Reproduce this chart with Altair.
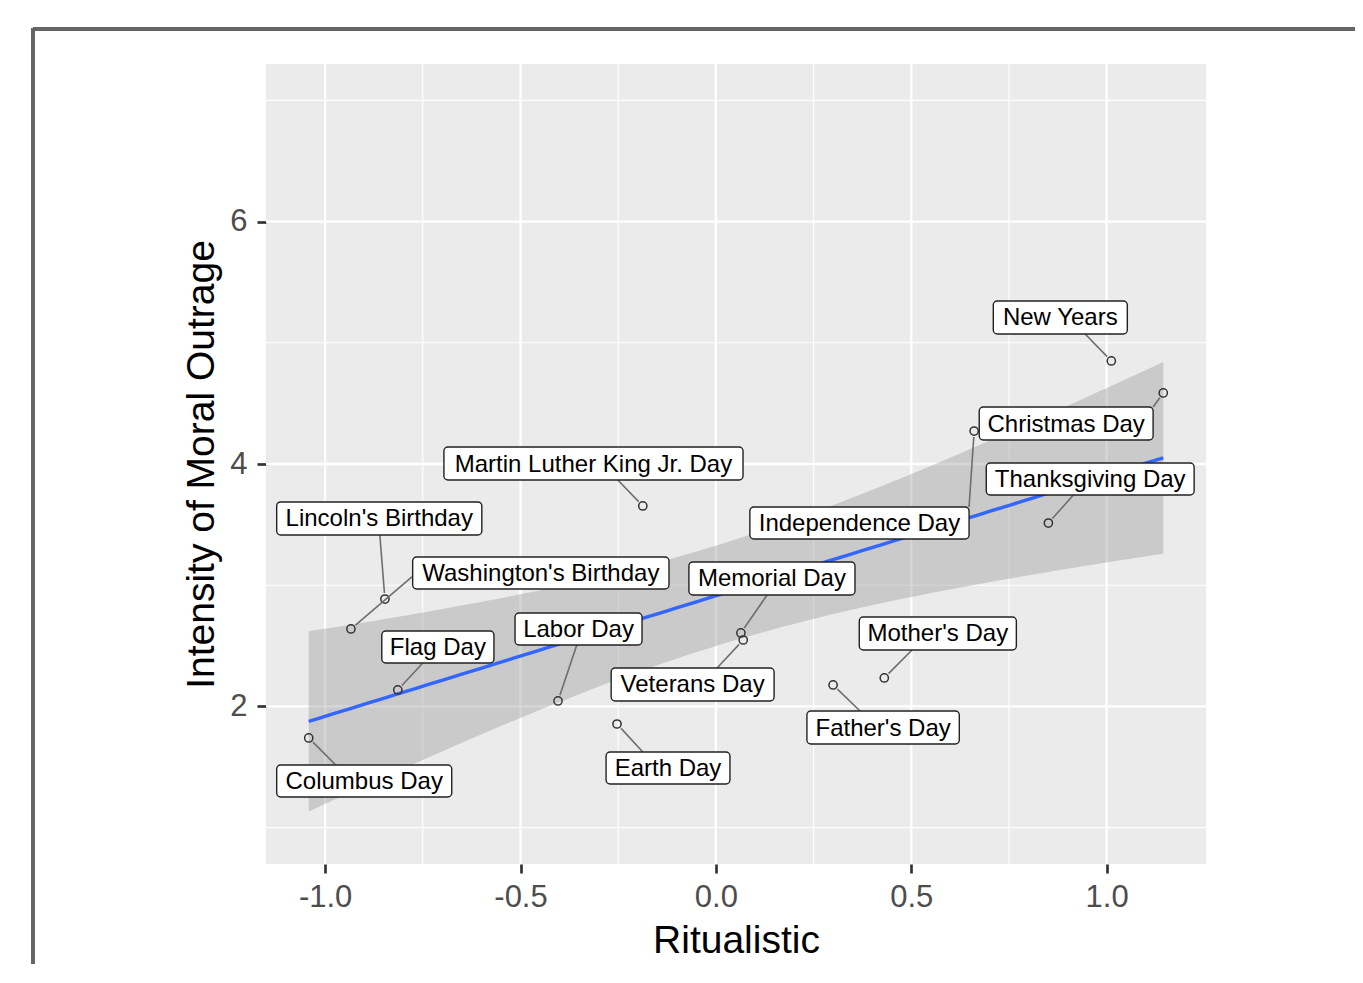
import altair as alt
import numpy as np
import pandas as pd

# ---------------- data ----------------
holidays = ["Columbus Day", "Lincoln's Birthday", "Washington's Birthday", "Flag Day",
            "Labor Day", "Martin Luther King Jr. Day", "Earth Day", "Memorial Day",
            "Veterans Day", "Father's Day", "Mother's Day", "Independence Day",
            "Thanksgiving Day", "New Years", "Christmas Day"]
ritualistic = [-1.042, -0.847, -0.934, -0.814, -0.404, -0.187, -0.253, 0.064,
               0.070, 0.300, 0.431, 0.661, 0.851, 1.012, 1.145]
outrage = [1.740, 2.886, 2.639, 2.136, 2.045, 3.654, 1.855, 2.606,
           2.548, 2.177, 2.235, 4.272, 3.513, 4.850, 4.586]

# label boxes as placed by the repel step (data units)
label_x1 = [-1.124, -1.124, -0.776, -0.855, -0.514, -0.696, -0.281, -0.069,
            -0.268, 0.233, 0.367, 0.087, 0.692, 0.710, 0.674]
label_x2 = [-0.676, -0.599, -0.120, -0.568, -0.189, 0.0695, 0.036, 0.356,
            0.149, 0.623, 0.769, 0.648, 1.224, 1.053, 1.119]
label_top = [1.517, 3.687, 3.233, 2.622, 2.771, 4.140, 1.624, 3.192,
             2.317, 1.962, 2.738, 3.645, 4.008, 5.345, 4.470]
label_bottom = [1.253, 3.414, 2.969, 2.358, 2.507, 3.868, 1.360, 2.919,
                2.045, 1.690, 2.466, 3.381, 3.744, 5.073, 4.198]
# where each leader segment meets its label box (data units)
seg_end_x = [-0.973, -0.860, -0.778, -0.750, -0.356, -0.251, -0.187, 0.131,
             0.003, 0.369, 0.502, 0.648, 0.915, 0.945, 1.119]
seg_end_y = [1.517, 3.414, 3.068, 2.358, 2.507, 3.868, 1.624, 2.919,
             2.317, 1.962, 2.466, 3.645, 3.744, 5.073, 4.470]

x_major = [-1.0, -0.5, 0.0, 0.5, 1.0]
x_minor = [-0.75, -0.25, 0.25, 0.75]
y_major = [2, 4, 6]
y_minor = [1, 3, 5, 7]
y_limits = [1, 7]

x_title = "Ritualistic"
y_title = "Intensity of Moral Outrage"

# ---------------- layout ----------------
W, H = 940, 800
FONT = "Liberation Sans"

xa = np.array(ritualistic)
ya = np.array(outrage)
xr = xa.max() - xa.min()
xlo, xhi = xa.min() - 0.05 * xr, xa.max() + 0.05 * xr
yr = y_limits[1] - y_limits[0]
ylo, yhi = y_limits[0] - 0.05 * yr, y_limits[1] + 0.05 * yr

xs = alt.Scale(domain=[xlo, xhi], nice=False, zero=False)
ys = alt.Scale(domain=[ylo, yhi], nice=False, zero=False)

x_axis = alt.Axis(values=x_major, grid=False, domain=False, tickColor="#333333",
                  tickWidth=2.7, tickSize=9, labelFontSize=31, labelColor="#4D4D4D",
                  labelFont=FONT, labelPadding=9,
                  labelExpr="(datum.value < 0 ? '-' : '') + format(abs(datum.value), '.1f')",
                  title=x_title, titleFontSize=39, titleFont=FONT, titleColor="black",
                  titleFontWeight="normal", titleBaseline="alphabetic", titleY=88)
y_axis = alt.Axis(values=y_major, grid=False, domain=False, tickColor="#333333",
                  tickWidth=2.7, tickSize=9, labelFontSize=31, labelColor="#4D4D4D",
                  labelFont=FONT, labelPadding=10, format="d",
                  title=y_title, titleFontSize=39, titleFont=FONT, titleColor="black",
                  titleFontWeight="normal", titleBaseline="alphabetic", titleX=-53, titleY=H / 2)

# ---------------- linear fit with 95% band (as geom_smooth(method = "lm")) ----------------
n = len(xa)
xm, ym = xa.mean(), ya.mean()
sxx = ((xa - xm) ** 2).sum()
b = ((xa - xm) * (ya - ym)).sum() / sxx
a = ym - b * xm
resid = ya - (a + b * xa)
s = np.sqrt((resid ** 2).sum() / (n - 2))
T975 = 2.160369  # Student t quantile 0.975, df = n - 2 = 13
grid = np.linspace(xa.min(), xa.max(), 80)
fit = a + b * grid
se = s * np.sqrt(1.0 / n + (grid - xm) ** 2 / sxx)
fit_df = pd.DataFrame({"x": grid, "fit": fit, "lo": fit - T975 * se, "hi": fit + T975 * se})

# ---------------- tables ----------------
pts = pd.DataFrame({"holiday": holidays, "x": ritualistic, "y": outrage})
lab = pd.DataFrame({"holiday": holidays, "x1": label_x1, "x2": label_x2,
                    "y1": label_bottom, "y2": label_top})
lab["cx"] = (lab["x1"] + lab["x2"]) / 2
lab["cy"] = (lab["y1"] + lab["y2"]) / 2

# leader segments: start just outside the point circle
sx, sy = W / (xhi - xlo), H / (yhi - ylo)
ex, ey = np.array(seg_end_x), np.array(seg_end_y)
dxp, dyp = (ex - xa) * sx, (ey - ya) * sy
L = np.hypot(dxp, dyp)
gap = 6.0
seg = pd.DataFrame({"x": xa + (ex - xa) * gap / L, "y": ya + (ey - ya) * gap / L,
                    "x2": ex, "y2": ey})

gx_major = pd.DataFrame({"v": x_major})
gx_minor = pd.DataFrame({"v": x_minor})
gy_major = pd.DataFrame({"v": y_major})
gy_minor = pd.DataFrame({"v": y_minor})

# ---------------- layers ----------------
base_x = alt.X("v:Q", scale=xs, axis=x_axis)
base_y = alt.Y("v:Q", scale=ys, axis=y_axis)

grid_xmin = alt.Chart(gx_minor).mark_rule(color="white", strokeWidth=1.1).encode(x=base_x)
grid_ymin = alt.Chart(gy_minor).mark_rule(color="white", strokeWidth=1.1).encode(y=base_y)
grid_xmaj = alt.Chart(gx_major).mark_rule(color="white", strokeWidth=2.3).encode(x=base_x)
grid_ymaj = alt.Chart(gy_major).mark_rule(color="white", strokeWidth=2.3).encode(y=base_y)

band = alt.Chart(fit_df).mark_area(color="#999999", opacity=0.4).encode(
    x=alt.X("x:Q", scale=xs, axis=x_axis),
    y=alt.Y("lo:Q", scale=ys, axis=y_axis),
    y2="hi:Q",
)
line = alt.Chart(fit_df).mark_line(color="#3366FF", strokeWidth=3.4).encode(
    x=alt.X("x:Q", scale=xs, axis=x_axis),
    y=alt.Y("fit:Q", scale=ys, axis=y_axis),
)
points = alt.Chart(pts).mark_point(shape="circle", filled=False, size=68, color="#333333",
                                   strokeWidth=1.5, opacity=1).encode(
    x=alt.X("x:Q", scale=xs, axis=x_axis),
    y=alt.Y("y:Q", scale=ys, axis=y_axis),
)
segments = alt.Chart(seg).mark_rule(color="#6E6E6E", strokeWidth=1.6).encode(
    x=alt.X("x:Q", scale=xs, axis=x_axis),
    y=alt.Y("y:Q", scale=ys, axis=y_axis),
    x2="x2:Q", y2="y2:Q",
)
boxes = alt.Chart(lab).mark_rect(fill="white", stroke="#222222", strokeWidth=1.4,
                                 cornerRadius=4).encode(
    x=alt.X("x1:Q", scale=xs, axis=x_axis),
    x2="x2:Q",
    y=alt.Y("y1:Q", scale=ys, axis=y_axis),
    y2="y2:Q",
)
texts = alt.Chart(lab).mark_text(font=FONT, fontSize=24, color="black", align="center",
                                 baseline="middle", dy=1).encode(
    x=alt.X("cx:Q", scale=xs, axis=x_axis),
    y=alt.Y("cy:Q", scale=ys, axis=y_axis),
    text="holiday:N",
)

# outer frame of the original screenshot
frame_top = alt.Chart(pts).mark_rule(color="#666666", strokeWidth=2.5).encode(
    x=alt.value(-233), x2=alt.value(1100), y=alt.value(-35))
frame_left = alt.Chart(pts).mark_rule(color="#666666", strokeWidth=2.5).encode(
    x=alt.value(-233), y=alt.value(-36), y2=alt.value(905))

chart = alt.layer(
    grid_xmin, grid_ymin, grid_xmaj, grid_ymaj, band, line, points, segments, boxes, texts,
    frame_top, frame_left,
).properties(
    width=W, height=H,
    padding={"left": 258, "top": 56, "right": 149, "bottom": 100},
    autosize=alt.AutoSizeParams(type="none"),
).configure(font=FONT, background="white").configure_view(fill="#EBEBEB", stroke=None)

chart.save("out.html", embed_options={"renderer": "svg", "actions": False})
